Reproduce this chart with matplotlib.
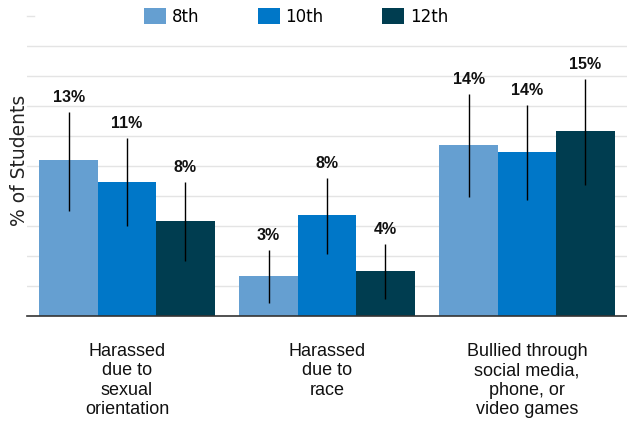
import matplotlib
matplotlib.use("Agg")
import matplotlib.pyplot as plt
import numpy as np
from matplotlib.patches import Patch

categories = ["Harassed\ndue to\nsexual\norientation", "Harassed\ndue to\nrace",
              "Bullied through\nsocial media,\nphone, or\nvideo games"]
series = ["8th", "10th", "12th"]
values = {
    "8th": [12.99, 3.35, 14.21],
    "10th": [11.16, 8.39, 13.68],
    "12th": [7.92, 3.74, 15.40],
}
lower = {
    "8th": [8.78, 1.13, 9.94],
    "10th": [7.50, 5.18, 9.67],
    "12th": [4.60, 1.41, 10.94],
}
upper = {
    "8th": [17.00, 5.51, 18.45],
    "10th": [14.79, 11.47, 17.54],
    "12th": [11.16, 5.98, 19.70],
}
labels = {
    "8th": ["13%", "3%", "14%"],
    "10th": ["11%", "8%", "14%"],
    "12th": ["8%", "4%", "15%"],
}
colors = {"8th": "#659fd1", "10th": "#0077c8", "12th": "#003d50"}

fig = plt.figure(figsize=(6.27, 4.23), dpi=100)
W, H = 627, 423
ax = fig.add_axes([27 / W, 1 - 316.3 / H, 1 - 27 / W, (316.3 - 15.7) / H])

x = np.arange(len(categories))
bw = 0.292
for i, s in enumerate(series):
    xs = x + (i - 1) * bw
    v = np.array(values[s])
    lo = v - np.array(lower[s])
    hi = np.array(upper[s]) - v
    ax.bar(xs, v, width=bw, color=colors[s], zorder=2)
    ax.errorbar(xs, v, yerr=[lo, hi], fmt="none", ecolor="black",
                elinewidth=1.0, capsize=0, zorder=3)
    for xi, top, lab in zip(xs, upper[s], labels[s]):
        ax.annotate(lab, xy=(xi, top), xytext=(0, 7.2), textcoords="offset points",
                    ha="center", va="baseline", fontsize=11.5, fontweight="bold",
                    family="Liberation Sans", color="#111111", annotation_clip=False)

ax.set_xlim(-0.5, 2.5)
ax.set_ylim(0, 25)
ax.set_yticks(np.arange(0, 25, 2.5))
ax.yaxis.grid(True, color="#e4e4e4", linewidth=1.0, zorder=0)
ax.set_axisbelow(True)
ax.axhline(25, xmin=0, xmax=0.012, color="#e4e4e4", linewidth=1.0, clip_on=False)
ax.tick_params(axis="y", length=0, labelleft=False)
ax.tick_params(axis="x", length=0, pad=19)
ax.set_xticks(x)
ax.set_xticklabels(categories, fontsize=13, family="Liberation Sans",
                   linespacing=1.2, color="#111111", va="top")
for sp in ["top", "right", "left"]:
    ax.spines[sp].set_visible(False)
ax.spines["bottom"].set_color("#333333")
ax.spines["bottom"].set_linewidth(1.2)

fig.text(20 / W, 1 - 160.5 / H, "% of Students", rotation=90, ha="center", va="center",
         fontsize=13.5, family="DejaVu Sans", color="#222222")

handles = [Patch(facecolor=colors[s], edgecolor="none") for s in series]
fig.legend(handles, series, loc="center", bbox_to_anchor=(296 / W, 1 - 16.7 / H),
           ncol=3, frameon=False, fontsize=12, handlelength=1.32, handleheight=1.08,
           handletextpad=0.36, columnspacing=3.5, borderpad=0.2)

fig.savefig("out.png", dpi=100)
